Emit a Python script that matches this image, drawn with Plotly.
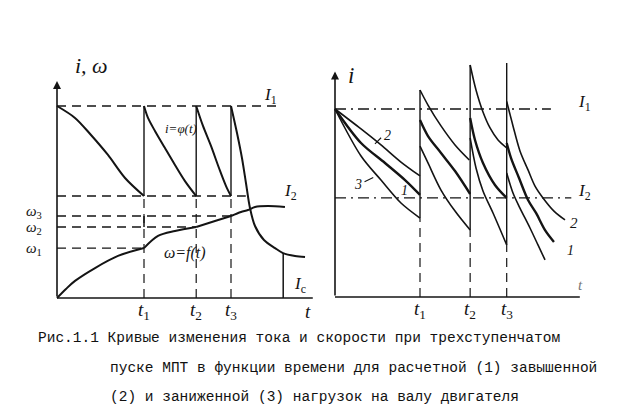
import plotly.graph_objects as go

INK = "#141414"

# ---------------- Left panel data (t in units of t1, values in % of I1) -------------
L_T1, L_T2, L_T3 = 1.0, 1.6, 2.0
L_I1, L_I2 = 100.0, 53.1
L_W1, L_W2, L_W3 = 26.0, 37.0, 42.7
L_IC, L_TIC = 23.4, 2.6

cur1_t = [0.0, 0.207, 0.391, 0.586, 0.782, 1.0]
cur1_i = [100.0, 93.8, 84.9, 74.5, 62.5, 53.1]
cur2_t = [1.0, 1.046, 1.126, 1.241, 1.356, 1.471, 1.6]
cur2_i = [100.0, 93.8, 87.0, 78.1, 69.3, 60.9, 53.1]
cur3_t = [1.6, 1.678, 1.770, 1.862, 1.943, 2.0]
cur3_i = [100.0, 89.6, 79.2, 67.7, 58.3, 53.1]
cur4_t = [2.0, 2.069, 2.126, 2.172, 2.218, 2.276, 2.379, 2.506, 2.598, 2.736, 2.851]
cur4_i = [100.0, 85.9, 72.9, 59.9, 46.9, 37.5, 30.2, 26.0, 23.4, 21.9, 21.4]

w1_t = [0.0, 0.103, 0.207, 0.437, 0.701, 1.0]
w1_v = [0.0, 4.7, 8.9, 15.6, 21.9, 26.0]
w2_t = [1.0, 1.161, 1.356, 1.6]
w2_v = [26.0, 32.3, 34.9, 37.0]
w3_t = [1.6, 1.816, 2.0]
w3_v = [37.0, 40.1, 42.7]
w4_t = [2.0, 2.115, 2.195, 2.276, 2.425, 2.62]
w4_v = [42.7, 44.8, 45.8, 47.4, 47.9, 47.4]

# ---------------- Right panel data -------------
R_T1, R_T2, R_T3 = 1.0, 1.59, 2.02
R_I1, R_I2 = 100.0, 52.7

# curve 2 (over-estimated load)
c2_t = [[0.0, 0.306, 0.541, 0.776, 1.0],
        [1.0, 1.094, 1.247, 1.412, 1.58],
        [1.59, 1.659, 1.741, 1.824, 1.918, 2.02],
        [2.02, 2.094, 2.176, 2.271, 2.353, 2.447, 2.576, 2.706]]
c2_i = [[100.0, 89.4, 80.9, 71.8, 64.4],
        [110.1, 102.1, 91.0, 80.9, 72.9],
        [123.4, 110.1, 98.4, 89.9, 83.5, 79.3],
        [104.0, 91.0, 77.7, 67.6, 59.0, 52.7, 45.7, 41.0]]
# curve 1 (rated load)
c1_t = [[0.0, 0.306, 0.588, 0.824, 1.0],
        [1.0, 1.094, 1.247, 1.412, 1.59],
        [1.59, 1.647, 1.741, 1.882, 2.02],
        [2.02, 2.071, 2.165, 2.271, 2.365, 2.471, 2.576]]
c1_i = [[100.0, 81.9, 71.3, 62.2, 54.3],
        [94.1, 85.6, 76.6, 67.0, 54.8],
        [95.2, 83.5, 71.3, 59.6, 52.7],
        [81.9, 73.9, 63.3, 51.6, 44.7, 35.6, 29.3]]
# curve 3 (under-estimated load)
c3_t = [[0.0, 0.306, 0.541, 0.776, 1.0],
        [1.0, 1.094, 1.247, 1.412, 1.59],
        [1.59, 1.659, 1.741, 1.859, 2.02],
        [2.02, 2.094, 2.176, 2.294, 2.388, 2.471]]
c3_i = [[100.0, 75.0, 62.2, 50.0, 42.0],
        [80.3, 71.3, 56.9, 45.7, 35.6],
        [84.6, 68.6, 56.4, 44.7, 27.7],
        [66.0, 55.3, 47.3, 36.7, 27.7, 19.7]]

caption = [
    "Рис.1.1 Кривые изменения тока и скорости при трехступенчатом",
    "пуске МПТ в функции времени для расчетной (1) завышенной",
    "(2) и заниженной (3) нагрузок на валу двигателя",
]

# axis geometry
W, H = 626, 419
AX = {
    1: dict(xd=[40.3 / W, 310 / W], xr=[-0.1, 3.0], yd=[(H - 299.6) / H, (H - 69.2) / H], yr=[-5, 115]),
    2: dict(xd=[318.5 / W, 582 / W], xr=[-0.1, 3.0], yd=[(H - 298.4) / H, (H - 54) / H], yr=[-5, 125]),
}


def to_paper(ax, x, y):
    a = AX[ax]
    px = a["xd"][0] + (x - a["xr"][0]) / (a["xr"][1] - a["xr"][0]) * (a["xd"][1] - a["xd"][0])
    py = a["yd"][0] + (y - a["yr"][0]) / (a["yr"][1] - a["yr"][0]) * (a["yd"][1] - a["yd"][0])
    return px, py


fig = go.Figure()


def line(xs, ys, ax, width=1.8, dash=None, shape="spline"):
    xa, ya = ("x", "y") if ax == 1 else ("x2", "y2")
    fig.add_trace(go.Scatter(
        x=xs, y=ys, mode="lines", xaxis=xa, yaxis=ya,
        line=dict(color=INK, width=width, dash=dash, shape=shape, smoothing=0.9),
        hoverinfo="skip", showlegend=False))


DASH = "9px,6px"
DASHDOT = "11px,5px,2px,5px"

# ---- left panel ----
line([0, 2.94], [0, 0], 1, width=1.6, shape="linear")
for seg_t, seg_i in [(cur1_t, cur1_i), (cur2_t, cur2_i), (cur3_t, cur3_i), (cur4_t, cur4_i)]:
    line(seg_t, seg_i, 1, width=2.0)
for seg_t, seg_v in [(w1_t, w1_v), (w2_t, w2_v), (w3_t, w3_v), (w4_t, w4_v)]:
    line(seg_t, seg_v, 1, width=2.0)
line([0, 2.56], [L_I1, L_I1], 1, width=1.4, dash=DASH, shape="linear")
line([0, 2.17], [L_I2, L_I2], 1, width=1.4, dash=DASH, shape="linear")
line([0, L_T3], [L_W3, L_W3], 1, width=1.4, dash=DASH, shape="linear")
line([0, L_T2], [L_W2, L_W2], 1, width=1.4, dash=DASH, shape="linear")
line([0, L_T1], [L_W1, L_W1], 1, width=1.4, dash=DASH, shape="linear")
for tt in (L_T1, L_T2, L_T3):
    line([tt, tt], [L_I2, L_I1], 1, width=1.4, shape="linear")
    line([tt, tt], [0, L_I2], 1, width=1.2, dash=DASH, shape="linear")
line([L_T1, L_T1], [L_W2, L_W3], 1, width=1.5, shape="linear")
line([L_TIC, L_TIC], [0, L_IC], 1, width=1.5, shape="linear")

# ---- right panel ----
line([0, 2.88], [0, 0], 2, width=1.6, shape="linear")
line([0, 2.54], [R_I1, R_I1], 2, width=1.3, dash=DASHDOT, shape="linear")
line([0, 2.78], [R_I2, R_I2], 2, width=1.3, dash=DASHDOT, shape="linear")
for k in range(4):
    line(c2_t[k], c2_i[k], 2, width=1.6)
    line(c1_t[k], c1_i[k], 2, width=2.4)
    line(c3_t[k], c3_i[k], 2, width=1.6)
for tt, lo, hi in [(R_T1, 42.0, 110.1), (R_T2, 35.6, 123.4), (R_T3, 27.7, 124.5)]:
    line([tt, tt], [lo, hi], 2, width=1.4, shape="linear")
    line([tt, tt], [0, lo], 2, width=1.2, dash=DASH, shape="linear")

SERIF = "Liberation Serif"
ann = []


def txt(x, y, s, ax, size=16, xanchor="center", font=SERIF, color=INK):
    px, py = to_paper(ax, x, y)
    ann.append(dict(x=px, y=py, xref="paper", yref="paper", text=s, showarrow=False,
                    xanchor=xanchor, yanchor="middle",
                    font=dict(family=font, size=size, color=color)))


# y-axis arrows
ann.append(dict(x=0, y=113, ax=0, ay=0, xref="x", yref="y", axref="x", ayref="y",
                showarrow=True, arrowhead=2, arrowsize=1, arrowwidth=1.6, arrowcolor=INK, text=""))
ann.append(dict(x=0, y=120, ax=0, ay=0, xref="x2", yref="y2", axref="x2", ayref="y2",
                showarrow=True, arrowhead=2, arrowsize=1, arrowwidth=1.6, arrowcolor=INK, text=""))

# left labels
txt(0.40, 121, "<i>i, ω</i>", 1, size=22)
txt(2.45, 105, "<i>I</i><sub>1</sub>", 1, size=17)
txt(1.42, 88.5, "<i>i=φ(t)</i>", 1, size=13)
txt(2.68, 55, "<i>I</i><sub>2</sub>", 1, size=17)
txt(1.47, 23.4, "<i>ω=f(t)</i>", 1, size=16)
txt(2.79, 7, "<i>I</i><sub>c</sub>", 1, size=17)
txt(-0.26, 45.0, "<i>ω</i><sub>3</sub>", 1, size=15)
txt(-0.26, 36.2, "<i>ω</i><sub>2</sub>", 1, size=15)
txt(-0.26, 25.6, "<i>ω</i><sub>1</sub>", 1, size=15)
for tt, lab in [(L_T1, "1"), (L_T2, "2"), (L_T3, "3")]:
    txt(tt, -7, f"<i>t</i><sub>{lab}</sub>", 1, size=19)
txt(2.88, -7, "<i>t</i>", 1, size=19)

# right labels
txt(0.19, 118, "<i>i</i>", 2, size=23)
txt(2.94, 103, "<i>I</i><sub>1</sub>", 2, size=17)
txt(2.93, 56, "<i>I</i><sub>2</sub>", 2, size=17)
txt(2.81, 39.5, "<i>2</i>", 2, size=15)
txt(2.77, 25, "<i>1</i>", 2, size=14)
txt(2.89, 6.5, "<i>t</i>", 2, size=15, color="#777")
for tt, lab in [(R_T1, "1"), (R_T2, "2"), (R_T3, "3")]:
    txt(tt, -7, f"<i>t</i><sub>{lab}</sub>", 2, size=19)
# leader labels in first segment
txt(0.62, 86, "<i>2</i>", 2, size=14)
txt(0.27, 60, "<i>3</i>", 2, size=14)
txt(0.82, 56.5, "<i>1</i>", 2, size=14)
ann.append(dict(x=0.47, y=81.5, ax=0.56, ay=85.5, xref="x2", yref="y2", axref="x2", ayref="y2",
                showarrow=True, arrowhead=0, arrowwidth=1.1, arrowcolor=INK, text=""))
ann.append(dict(x=0.45, y=63.5, ax=0.33, ay=61, xref="x2", yref="y2", axref="x2", ayref="y2",
                showarrow=True, arrowhead=0, arrowwidth=1.1, arrowcolor=INK, text=""))

# caption
MONO = "Liberation Mono"
for (xp, yp), s in zip([(28, 330), (100, 360), (100, 389)], caption):
    ann.append(dict(x=xp / W, y=1 - yp / H, xref="paper", yref="paper", text=s,
                    showarrow=False, xanchor="left", yanchor="middle",
                    font=dict(family=MONO, size=14.5, color="#111")))

fig.update_layout(
    width=W, height=H, margin=dict(l=0, r=0, t=0, b=0),
    paper_bgcolor="white", plot_bgcolor="rgba(0,0,0,0)", showlegend=False,
    annotations=ann,
    xaxis=dict(domain=AX[1]["xd"], range=AX[1]["xr"], visible=False),
    yaxis=dict(domain=AX[1]["yd"], range=AX[1]["yr"], visible=False),
    xaxis2=dict(domain=AX[2]["xd"], range=AX[2]["xr"], visible=False, anchor="y2"),
    yaxis2=dict(domain=AX[2]["yd"], range=AX[2]["yr"], visible=False, anchor="x2"),
)

fig.write_html("out.html")
